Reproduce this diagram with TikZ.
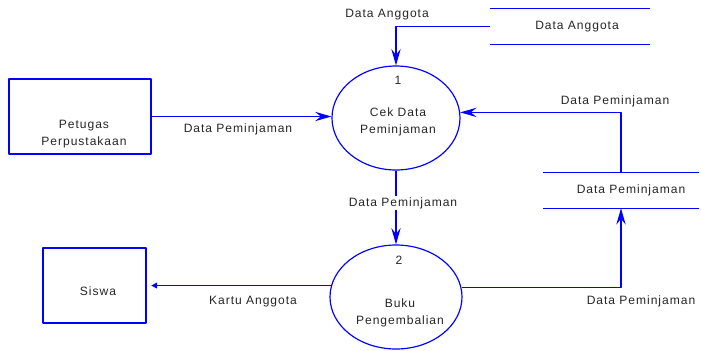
\documentclass[tikz,border=0pt]{standalone}
\usepackage{fontspec}
\setmainfont{Liberation Sans}[LetterSpace=8]
\usetikzlibrary{shapes.geometric,arrows.meta}
\begin{document}
\begin{tikzpicture}[x=0.03cm, y=-0.03cm, font=\fontsize{10.3}{14.5}\selectfont, line join=round,
		>={Stealth[length=14pt,width=8pt,inset=5pt]},
		entity/.style={draw=blue, line width=1pt, rectangle, inner sep=0pt},
		proc/.style={draw=blue, line width=1pt, ellipse, inner sep=0pt},
		store/.style={rectangle, inner sep=0pt},
		flow/.style={draw=blue, line width=1pt, ->},
		txt/.style={text=black!85, align=center, inner sep=1pt}]
			\useasboundingbox (0,0) rectangle (701,350);
			%\draw[color=gray!50,dashed] (0,0) grid[step=50] (701,350);
			% entitas luar
			\node[entity, minimum width=142*0.03cm, minimum height=75*0.03cm] (petugas) at (80,116.5) {};
			\node[entity, minimum width=103*0.03cm, minimum height=75*0.03cm] (siswa) at (94.5,285.5) {};
			% proses
			\node[proc, minimum width=128*0.03cm, minimum height=104*0.03cm] (p1) at (396,118) {};
			\node[proc, minimum width=132*0.03cm, minimum height=104*0.03cm] (p2) at (396,297) {};
			% data store
			\node[store, minimum width=160*0.03cm, minimum height=35*0.03cm] (sa) at (570,26.5) {};
			\node[store, minimum width=156*0.03cm, minimum height=35*0.03cm] (sp) at (621,190.5) {};
			\draw[blue, line width=1pt] (sa.north west)--(sa.north east) (sa.south west)--(sa.south east);
			\draw[blue, line width=1pt] (sp.north west)--(sp.north east) (sp.south west)--(sp.south east);
			% teks
			\node[txt] (tpetugas) at (84,134.5) {Petugas\\Perpustakaan};
			\node[txt] (tsiswa) at (98,291) {Siswa};
			\node[txt] (n1) at (398,80) {1};
			\node[txt] (tp1) at (398,121.5) {Cek Data\\Peminjaman};
			\node[txt] (n2) at (399,260) {2};
			\node[txt] (tp2) at (400,313) {Buku\\Pengembalian};
			\node[txt] (tsa) at (577,27) {Data Anggota};
			\node[txt] (tsp) at (631,190) {Data Peminjaman};
			% aliran data
			\draw[flow] (petugas.east)--(petugas.east -| p1.west);
			\draw[flow] (sa.west)-|(p1.north);
			\draw[flow] (sp.north)|-(p1.5);
			\draw[flow] (p1.south)--(p2.north);
			\draw[draw=blue, line width=1pt, -{Triangle[length=5pt,width=5pt]}, shorten >=4pt] (p2.170)--(p2.170 -| siswa.east);
			\draw[flow] (p2.8)-|(sp.south);
			% label aliran
			\node[txt] (l1) at (238,129) {Data Peminjaman};
			\node[txt] (l2) at (387,15) {Data Anggota};
			\node[txt] (l3) at (615,101) {Data Peminjaman};
			\node[txt, fill=white] (l4) at (403,203) {Data Peminjaman};
			\node[txt] (l5) at (253,302) {Kartu Anggota};
			\node[txt] (l6) at (641,301) {Data Peminjaman};
		\end{tikzpicture}
\end{document}
